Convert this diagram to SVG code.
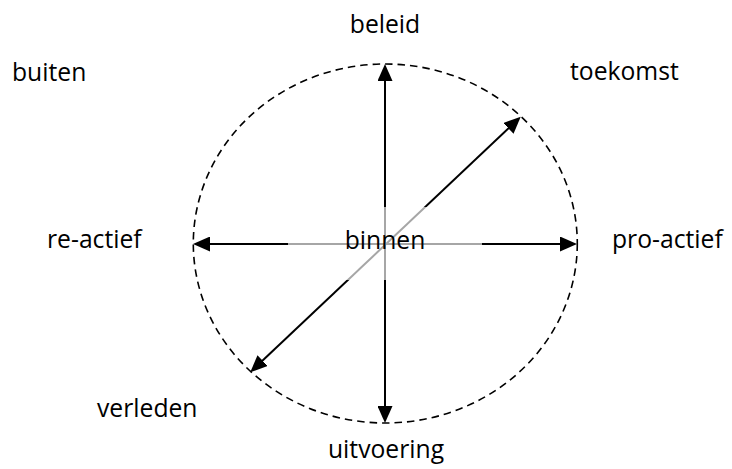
<svg xmlns="http://www.w3.org/2000/svg" width="732" height="469" viewBox="0 0 732 469">
  <style>
    .lbl { font-family: "Open Sans", "Noto Sans", sans-serif; font-size: 24.7px; fill: #000; }
    .ax { stroke: #000; stroke-width: 2; fill: none; marker-start: url(#ah); marker-end: url(#ah); }
  </style>
  <defs>
    <marker id="ah" markerUnits="userSpaceOnUse" markerWidth="17" markerHeight="15" refX="8" refY="7.5" orient="auto-start-reverse" viewBox="0 0 17 15">
      <path d="M0,0 L17,7.5 L0,15 Z" fill="#000"/>
    </marker>
  </defs>
  <rect width="732" height="469" fill="#fff"/>
  <g id="outer-circle">
    <ellipse cx="385.3" cy="243.5" rx="192" ry="179.5" fill="none" stroke="#000" stroke-width="1.6" stroke-dasharray="7.5,5"/>
  </g>
  <g id="connectors">
    <line class="ax" x1="385" y1="73" x2="385" y2="414"/>
    <line class="ax" x1="202" y1="244" x2="568" y2="244"/>
    <line class="ax" x1="514.2" y1="122.9" x2="256.8" y2="366.1"/>
  </g>
  <g id="binnen">
    <rect x="288" y="207" width="194" height="73" fill="#fff" fill-opacity="0.65"/>
    <text class="lbl" x="385" y="249" text-anchor="middle">binnen</text>
  </g>
  <g id="beleid"><text class="lbl" x="385" y="33" text-anchor="middle">beleid</text></g>
  <g id="buiten"><text class="lbl" x="12" y="81">buiten</text></g>
  <g id="toekomst"><text class="lbl" x="570" y="80">toekomst</text></g>
  <g id="re-actief"><text class="lbl" x="47" y="248">re-actief</text></g>
  <g id="pro-actief"><text class="lbl" x="612" y="248">pro-actief</text></g>
  <g id="verleden"><text class="lbl" x="97" y="417">verleden</text></g>
  <g id="uitvoering"><text class="lbl" x="386" y="458" text-anchor="middle">uitvoering</text></g>
</svg>
